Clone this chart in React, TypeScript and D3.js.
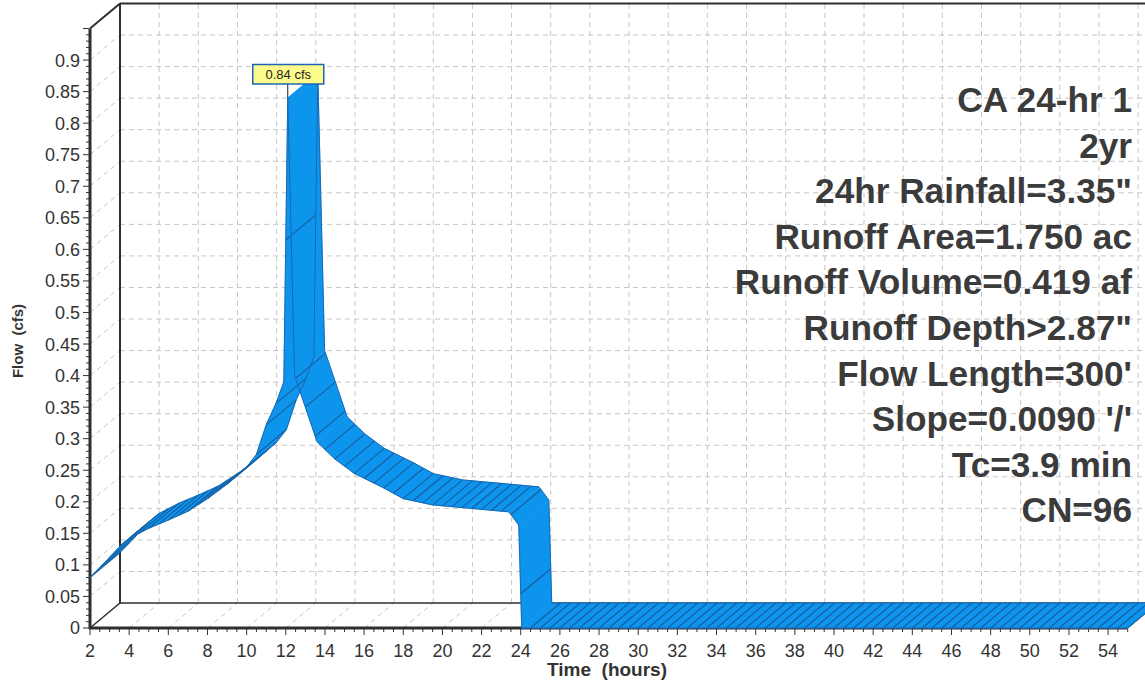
import React, { useEffect, useRef } from 'react';
import * as d3 from 'd3';

// hydrograph (hours, cfs)
const times = [2, 3, 3.6, 4, 5, 6, 7, 8, 9, 10, 10.5, 11, 11.5, 11.9, 12.1, 12.45, 13, 13.6, 14.5, 15.5, 17, 18, 19.5, 21.3, 23.4, 23.9, 24.05, 55];
const flows = [0.08, 0.112, 0.132, 0.142, 0.158, 0.171, 0.185, 0.205, 0.228, 0.255, 0.275, 0.322, 0.356, 0.39, 0.84, 0.40, 0.35, 0.295, 0.268, 0.245, 0.222, 0.205, 0.195, 0.19, 0.184, 0.163, 0, 0];

const xTicks = [2, 4, 6, 8, 10, 12, 14, 16, 18, 20, 22, 24, 26, 28, 30, 32, 34, 36, 38, 40, 42, 44, 46, 48, 50, 52, 54];
const yTicks = [0, 0.05, 0.1, 0.15, 0.2, 0.25, 0.3, 0.35, 0.4, 0.45, 0.5, 0.55, 0.6, 0.65, 0.7, 0.75, 0.8, 0.85, 0.9];
const yTickLabels = ['0', '0.05', '0.1', '0.15', '0.2', '0.25', '0.3', '0.35', '0.4', '0.45', '0.5', '0.55', '0.6', '0.65', '0.7', '0.75', '0.8', '0.85', '0.9'];

const peakLabel = '0.84 cfs';
const notes = ['CA 24-hr 1', '2yr', '24hr Rainfall=3.35"', 'Runoff Area=1.750 ac', 'Runoff Volume=0.419 af', 'Runoff Depth>2.87"', "Flow Length=300'", "Slope=0.0090 '/'", 'Tc=3.9 min', 'CN=96'];

export default function App() {
  const ref = useRef<SVGSVGElement>(null);

  useEffect(() => {
    const W = 1145, H = 684;
    const dx = 30, dy = -25; // depth offset of the 3d box
    const font = '"Liberation Sans", Arial, sans-serif';
    const svg = d3.select(ref.current);
    svg.selectAll('*').remove();

    const x = d3.scaleLinear().domain([2, 55]).range([90, 1127.7]);
    const y = d3.scaleLinear().domain([0, 0.95]).range([628, 28.5]);
    const x0 = x(2), yb = y(0), yt = y(0.95), xe = x(55);

    svg.append('rect').attr('width', W).attr('height', H).attr('fill', '#fff');

    // grid on the back wall, floor and left wall
    const grid = svg.append('g').attr('stroke', '#c6c6c6').attr('stroke-width', 1).attr('stroke-dasharray', '5,4');
    grid.selectAll('.gv').data(xTicks.slice(1)).join('line').attr('class', 'gv')
      .attr('x1', d => x(d) + dx).attr('x2', d => x(d) + dx)
      .attr('y1', yb + dy).attr('y2', yt + dy);
    grid.selectAll('.gh').data(yTicks.slice(1)).join('line').attr('class', 'gh')
      .attr('x1', x0 + dx).attr('x2', W)
      .attr('y1', d => y(d) + dy).attr('y2', d => y(d) + dy);
    grid.selectAll('.gf').data(xTicks).join('line').attr('class', 'gf')
      .attr('x1', d => x(d)).attr('x2', d => x(d) + dx)
      .attr('y1', yb).attr('y2', yb + dy);
    grid.selectAll('.gw').data(yTicks.slice(1)).join('line').attr('class', 'gw')
      .attr('x1', x0).attr('x2', x0 + dx)
      .attr('y1', d => y(d)).attr('y2', d => y(d) + dy);

    // back frame
    const frame = svg.append('g').attr('stroke', '#2e2e2e').attr('fill', 'none');
    frame.append('line').attr('x1', x0 + dx).attr('x2', x0 + dx).attr('y1', yt + dy).attr('y2', yb + dy).attr('stroke-width', 2);
    frame.append('line').attr('x1', x0 + dx).attr('x2', W).attr('y1', yt + dy).attr('y2', yt + dy).attr('stroke-width', 2);
    frame.append('line').attr('x1', x0 + dx).attr('x2', W).attr('y1', yb + dy).attr('y2', yb + dy).attr('stroke-width', 1.5);
    frame.append('line').attr('x1', x0).attr('x2', x0 + dx).attr('y1', yb).attr('y2', yb + dy).attr('stroke-width', 1.5);

    // front axes
    frame.append('line').attr('x1', x0).attr('x2', x0 + dx).attr('y1', yt).attr('y2', yt + dy).attr('stroke-width', 2);
    frame.append('line').attr('x1', x0).attr('x2', x0).attr('y1', yb + 1).attr('y2', yt).attr('stroke-width', 3);
    frame.append('line').attr('x1', x0 - 1).attr('x2', xe).attr('y1', yb).attr('y2', yb).attr('stroke-width', 3);

    // ribbon
    const pts: [number, number][] = times.map((t, i) => [x(t), y(flows[i])]);
    const back = (p: [number, number]): [number, number] => [p[0] + dx, p[1] + dy];
    const line = d3.line();
    const band = svg.append('g');
    band.selectAll('path').data(d3.pairs(pts)).join('path')
      .attr('d', ([a, b]) => line([a, b, back(b), back(a)]) + 'Z')
      .attr('fill', '#0d95ee').attr('stroke', '#0d95ee').attr('stroke-width', 0.6);

    // hatch: depth lines every half hour
    const flowAt = (t: number) => {
      const i = Math.min(times.length - 1, Math.max(1, d3.bisectRight(times, t)));
      const k = (t - times[i - 1]) / (times[i] - times[i - 1]);
      return flows[i - 1] + k * (flows[i] - flows[i - 1]);
    };
    const halfHours = d3.range(4, 111).map(i => i / 2);
    band.append('g').attr('stroke', '#1b5592').attr('stroke-width', 1.1).attr('opacity', 0.9)
      .selectAll('line').data(halfHours).join('line')
      .attr('x1', d => x(d)).attr('y1', d => y(flowAt(d)))
      .attr('x2', d => x(d) + dx).attr('y2', d => y(flowAt(d)) + dy);

    band.append('path').attr('d', line(pts)).attr('fill', 'none').attr('stroke', '#1868b4').attr('stroke-width', 1);
    band.append('path').attr('d', line(pts.map(back))).attr('fill', 'none').attr('stroke', '#1868b4').attr('stroke-width', 1);
    band.append('path').attr('d', line([pts[pts.length - 1], back(pts[pts.length - 1])])).attr('stroke', '#1868b4');

    // ticks
    const minorY = d3.range(0, 96).map(i => i / 100);
    svg.append('g').attr('stroke', '#333').attr('stroke-width', 1)
      .selectAll('line').data(minorY).join('line')
      .attr('x1', x0 - 1).attr('x2', (d, i) => (i % 5 === 0 ? x0 - 7 : x0 - 4))
      .attr('y1', d => y(d)).attr('y2', d => y(d));
    const minorX = d3.range(4, 111).map(i => i / 2);
    svg.append('g').attr('stroke', '#333').attr('stroke-width', 1)
      .selectAll('line').data(minorX).join('line')
      .attr('x1', d => x(d)).attr('x2', d => x(d))
      .attr('y1', yb + 1).attr('y2', (d, i) => (i % 4 === 0 ? yb + 7 : yb + 4));

    svg.append('g').selectAll('text').data(yTicks).join('text')
      .attr('x', x0 - 10).attr('y', d => y(d)).attr('dy', '0.36em')
      .attr('text-anchor', 'end').attr('font-family', font).attr('font-size', 18).attr('fill', '#333')
      .text((d, i) => yTickLabels[i]);
    svg.append('g').selectAll('text').data(xTicks).join('text')
      .attr('x', d => x(d)).attr('y', 657)
      .attr('text-anchor', 'middle').attr('font-family', font).attr('font-size', 18).attr('fill', '#333')
      .text(d => d);

    svg.append('text').attr('x', 607).attr('y', 676).attr('text-anchor', 'middle')
      .attr('font-family', font).attr('font-weight', 'bold').attr('font-size', 19).attr('fill', '#333')
      .style('white-space', 'pre').text('Time  (hours)');
    svg.append('text').attr('transform', 'translate(23,341) rotate(-90)').attr('text-anchor', 'middle')
      .attr('font-family', font).attr('font-weight', 'bold').attr('font-size', 15).attr('fill', '#333')
      .style('white-space', 'pre').text('Flow  (cfs)');

    // peak callout
    const pi = flows.indexOf(d3.max(flows) as number);
    const px = x(times[pi]);
    svg.append('line').attr('x1', px).attr('x2', px).attr('y1', 84).attr('y2', y(flows[pi])).attr('stroke', '#222');
    svg.append('rect').attr('x', px - 35).attr('y', 64.5).attr('width', 71).attr('height', 19.5)
      .attr('fill', '#fdfb8c').attr('stroke', '#1d63b8').attr('stroke-width', 1.5);
    svg.append('text').attr('x', px + 0.5).attr('y', 79).attr('text-anchor', 'middle')
      .attr('font-family', font).attr('font-size', 13).attr('fill', '#222').text(peakLabel);

    // summary text
    svg.append('g').selectAll('text').data(notes).join('text')
      .attr('x', 1132).attr('y', (d, i) => 112 + i * 45.6).attr('text-anchor', 'end')
      .attr('font-family', font).attr('font-weight', 'bold').attr('font-size', 35.2).attr('fill', '#3b3b3b')
      .text(d => d);
  }, []);

  return (
    <svg ref={ref} width={1145} height={684} style={{ position: 'absolute', left: 0, top: 0, display: 'block' }} />
  );
}
